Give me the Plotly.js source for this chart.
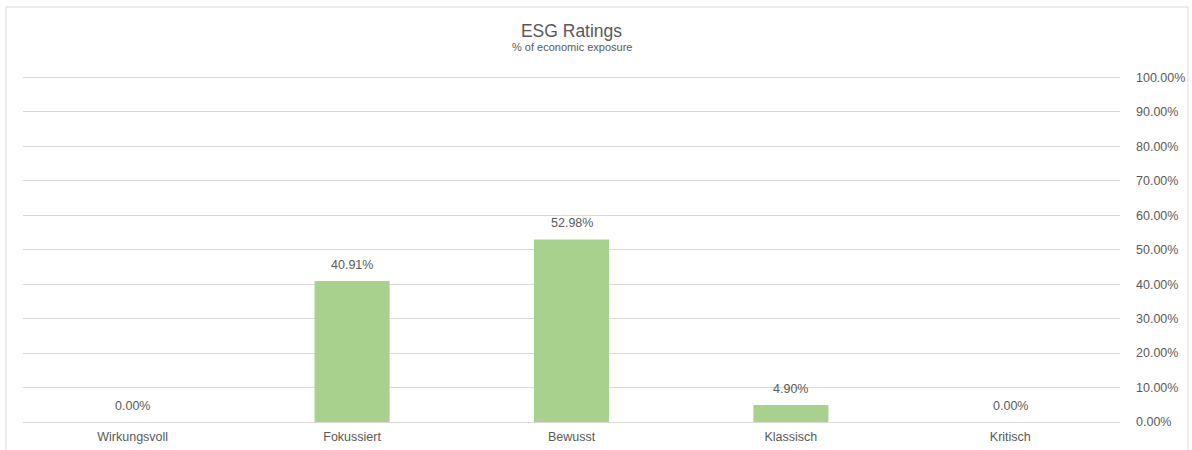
<!DOCTYPE html>
<html><head><meta charset="utf-8">
<script src="https://cdn.plot.ly/plotly-3.0.1.min.js"></script>
<style>html,body{margin:0;padding:0;background:#fff;}#c{width:1192px;height:450px;}</style>
</head><body><div id="c"></div>
<script>
const categories = ["Wirkungsvoll", "Fokussiert", "Bewusst", "Klassisch", "Kritisch"];
const values = [0.0, 0.4091, 0.5298, 0.0490, 0.0];
const yTickValues = [0, 0.1, 0.2, 0.3, 0.4, 0.5, 0.6, 0.7, 0.8, 0.9, 1.0];

const textColor = '#595959';
const labelFont = {family: 'Liberation Sans, Arial, sans-serif', size: 12.5, color: textColor};
const plotH = 348;

const trace = {
  type: 'bar', x: categories, y: values,
  marker: {color: '#A9D18E'},
  hoverinfo: 'skip'
};

const annotations = categories.map((c, i) => ({
  x: c, y: values[i], xref: 'x', yref: 'y',
  text: (values[i] * 100).toFixed(2) + '%',
  showarrow: false, yanchor: 'bottom', yshift: 7,
  font: labelFont
}));
annotations.push({
  x: 0.5, y: (422 - 47) / plotH, xref: 'paper', yref: 'paper',
  text: '% of economic exposure', showarrow: false,
  yanchor: 'middle',
  font: {family: 'Liberation Sans, Arial, sans-serif', size: 11, color: textColor}
});

const layout = {
  width: 1192, height: 450,
  margin: {l: 23, r: 72, t: 74, b: 28, pad: 0},
  paper_bgcolor: '#ffffff', plot_bgcolor: '#ffffff',
  showlegend: false,
  bargap: 0.658,
  title: {
    text: 'ESG Ratings', x: 0.5, xanchor: 'center',
    xref: 'paper', yref: 'container', y: 1 - 31 / 450, yanchor: 'middle',
    font: {family: 'Liberation Sans, Arial, sans-serif', size: 17.5, color: textColor}
  },
  xaxis: {
    showgrid: false, zeroline: false, showline: false, ticks: '',
    ticklabelstandoff: 5,
    tickfont: labelFont, fixedrange: true
  },
  yaxis: {
    side: 'right', range: [0, 1.01], tickvals: yTickValues, tickformat: '.2%',
    showgrid: true, gridcolor: '#d9d9d9', gridwidth: 1,
    zeroline: true, zerolinecolor: '#d9d9d9', zerolinewidth: 1,
    showline: false, ticks: '', ticklabelstandoff: 15,
    tickfont: labelFont, fixedrange: true
  },
  annotations: annotations,
  shapes: [{
    type: 'rect', xref: 'paper', yref: 'paper',
    x0: (6 - 23) / 1097, x1: (1188 - 23) / 1097,
    y0: -0.2, y1: (422 - 7) / plotH,
    line: {color: '#d9d9d9', width: 1}, fillcolor: 'rgba(0,0,0,0)', layer: 'below'
  }]
};

Plotly.newPlot('c', [trace], layout, {displayModeBar: false, staticPlot: true});
</script>
</body></html>
